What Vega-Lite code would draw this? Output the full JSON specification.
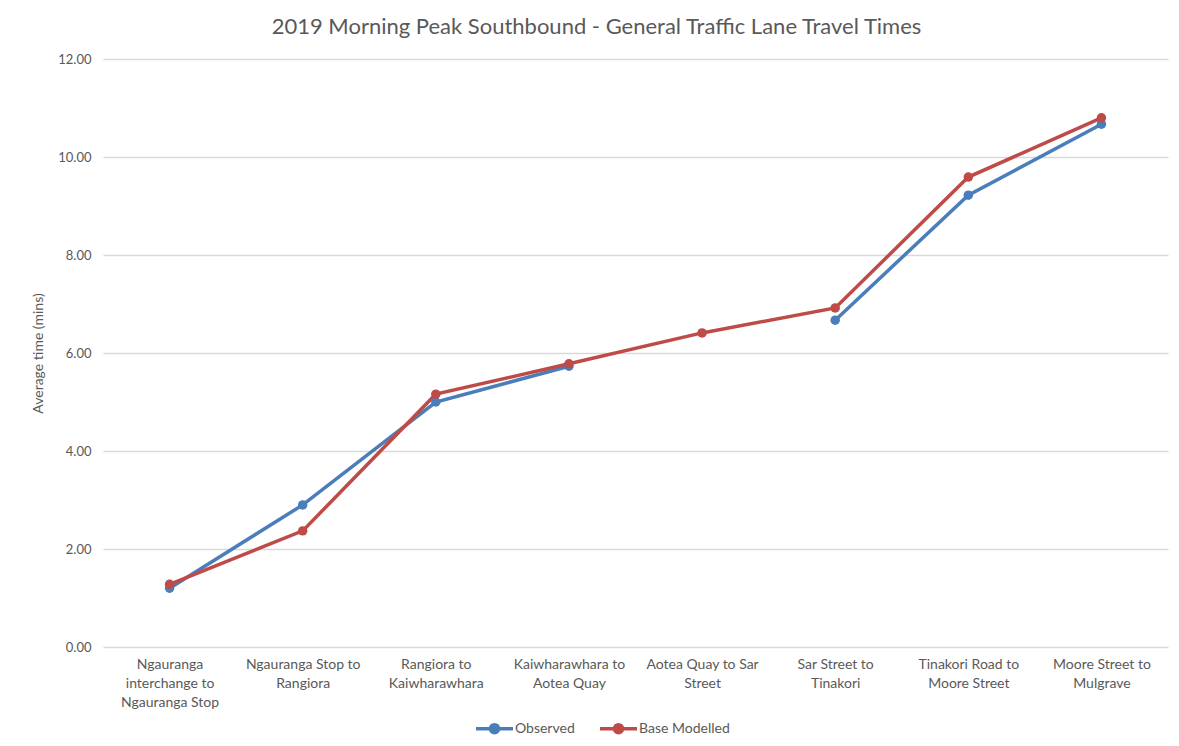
{
  "$schema": "https://vega.github.io/schema/vega-lite/v6.json",
  "width": 1065,
  "height": 588,
  "autosize": {"type": "none"},
  "padding": {"left": 103, "top": 59, "right": 11, "bottom": 99},
  "background": "white",
  "title": {
    "text": "2019 Morning Peak Southbound - General Traffic Lane Travel Times",
    "font": "Lato",
    "fontSize": 22,
    "fontWeight": "normal",
    "color": "#595959",
    "dx": -39,
    "offset": 14
  },
  "config": {
    "view": {"stroke": null},
    "font": "Lato"
  },
  "data": {
    "values": [
      {"segment": "Ngauranga interchange to Ngauranga Stop", "series": "Observed", "time": 1.20},
      {"segment": "Ngauranga Stop to Rangiora", "series": "Observed", "time": 2.90},
      {"segment": "Rangiora to Kaiwharawhara", "series": "Observed", "time": 5.00},
      {"segment": "Kaiwharawhara to Aotea Quay", "series": "Observed", "time": 5.73},
      {"segment": "Aotea Quay to Sar Street", "series": "Observed", "time": null},
      {"segment": "Sar Street to Tinakori", "series": "Observed", "time": 6.67},
      {"segment": "Tinakori Road to Moore Street", "series": "Observed", "time": 9.22},
      {"segment": "Moore Street to Mulgrave", "series": "Observed", "time": 10.67},
      {"segment": "Ngauranga interchange to Ngauranga Stop", "series": "Base Modelled", "time": 1.28},
      {"segment": "Ngauranga Stop to Rangiora", "series": "Base Modelled", "time": 2.37},
      {"segment": "Rangiora to Kaiwharawhara", "series": "Base Modelled", "time": 5.16},
      {"segment": "Kaiwharawhara to Aotea Quay", "series": "Base Modelled", "time": 5.78},
      {"segment": "Aotea Quay to Sar Street", "series": "Base Modelled", "time": 6.41},
      {"segment": "Sar Street to Tinakori", "series": "Base Modelled", "time": 6.92},
      {"segment": "Tinakori Road to Moore Street", "series": "Base Modelled", "time": 9.59},
      {"segment": "Moore Street to Mulgrave", "series": "Base Modelled", "time": 10.80}
    ]
  },
  "mark": {
    "type": "line",
    "strokeWidth": 3.5,
    "invalid": "break-paths-filter-domains",
    "point": {"filled": true, "size": 90, "opacity": 1}
  },
  "encoding": {
    "x": {
      "field": "segment",
      "type": "nominal",
      "sort": null,
      "scale": {"paddingInner": 0, "paddingOuter": 0.5},
      "axis": {
        "title": null,
        "labelAngle": 0,
        "domain": false,
        "ticks": false,
        "grid": false,
        "labelPadding": 10,
        "labelFont": "Lato",
        "labelFontSize": 14,
        "labelColor": "#595959",
        "labelLineHeight": 19,
        "labelBaseline": "top",
        "labelLimit": 200,
        "labelExpr": "datum.value == 'Ngauranga interchange to Ngauranga Stop' ? ['Ngauranga', 'interchange to', 'Ngauranga Stop'] : datum.value == 'Ngauranga Stop to Rangiora' ? ['Ngauranga Stop to', 'Rangiora'] : datum.value == 'Rangiora to Kaiwharawhara' ? ['Rangiora to', 'Kaiwharawhara'] : datum.value == 'Kaiwharawhara to Aotea Quay' ? ['Kaiwharawhara to', 'Aotea Quay'] : datum.value == 'Aotea Quay to Sar Street' ? ['Aotea Quay to Sar', 'Street'] : datum.value == 'Sar Street to Tinakori' ? ['Sar Street to', 'Tinakori'] : datum.value == 'Tinakori Road to Moore Street' ? ['Tinakori Road to', 'Moore Street'] : ['Moore Street to', 'Mulgrave']"
      }
    },
    "y": {
      "field": "time",
      "type": "quantitative",
      "scale": {"domain": [0, 12], "nice": false},
      "axis": {
        "title": "Average time (mins)",
        "titleFont": "Lato",
        "titleFontSize": 14,
        "titleFontWeight": "normal",
        "titleColor": "#595959",
        "titlePadding": 12,
        "values": [0, 2, 4, 6, 8, 10, 12],
        "format": ".2f",
        "domain": false,
        "ticks": false,
        "labelPadding": 12,
        "labelFont": "Lato",
        "labelFontSize": 13,
        "labelColor": "#595959",
        "gridColor": "#d9d9d9",
        "gridWidth": 1.3
      }
    },
    "color": {
      "field": "series",
      "type": "nominal",
      "sort": ["Observed", "Base Modelled"],
      "scale": {"domain": ["Observed", "Base Modelled"], "range": ["#4a7ebb", "#be4b48"]},
      "legend": {
        "title": null,
        "orient": "none",
        "direction": "horizontal",
        "legendX": 371,
        "legendY": 649,
        "symbolType": "M-1,0H1M-0.22,0A0.22,0.22 0 1,1 0.22,0A0.22,0.22 0 1,1 -0.22,0M-0.08,0A0.08,0.08 0 1,1 0.08,0A0.08,0.08 0 1,1 -0.08,0",
        "symbolSize": 1369,
        "symbolStrokeWidth": 3.5,
        "symbolOpacity": 1,
        "labelFont": "Lato",
        "labelFontSize": 14,
        "labelColor": "#595959",
        "labelOffset": 0,
        "columnPadding": 18
      }
    }
  }
}
